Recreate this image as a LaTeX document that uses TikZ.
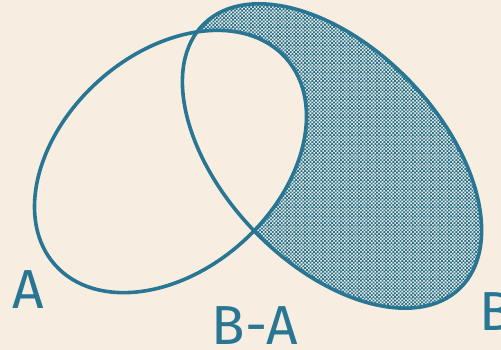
\documentclass[tikz,border=0pt]{standalone}
\usepackage{fontspec}
\setmainfont{Fira Sans}
\usepackage{xcolor}
\usepackage{tikz}
\usetikzlibrary{patterns}
\definecolor{setteal}{RGB}{40,118,148}
\definecolor{paper}{RGB}{247,237,224}
% finer checkerboard than the library one
\pgfdeclarepatternformonly{finechecker}{\pgfqpoint{-0.5pt}{-0.5pt}}{\pgfqpoint{4pt}{4pt}}{\pgfqpoint{3.6pt}{3.6pt}}{%
  \pgfpathrectangle{\pgfpointorigin}{\pgfqpoint{1.85pt}{1.85pt}}%
  \pgfpathrectangle{\pgfqpoint{1.8pt}{1.8pt}}{\pgfqpoint{1.85pt}{1.85pt}}%
  \pgfusepath{fill}}

\begin{document}
\begin{tikzpicture}[x=1pt, y=1pt,
  setline/.style={draw=setteal, line width=3.6pt},
  lbl/.style={text=setteal, inner sep=0pt, font=\fontsize{55}{55}\selectfont}
]

\useasboundingbox (0,0) rectangle (501,350);
\fill[paper] (0,0) rectangle (501,350);

% B minus A
\fill[pattern=finechecker, pattern color=setteal] (332,194) ellipse [x radius=184, y radius=108, rotate=-46];
\fill[paper] (170.5,188.5) ellipse [x radius=155, y radius=108, rotate=42];

\draw[setline] (170.5,188.5) ellipse [x radius=155, y radius=108, rotate=42];
\draw[setline] (332,194) ellipse [x radius=184, y radius=108, rotate=-46];

\node[lbl] (lblA) at (28,60) {A};
\node[lbl] (lblBA) at (255,24) {B-A};
\node[lbl] (lblB) at (496,38) {B};

\end{tikzpicture}
\end{document}
